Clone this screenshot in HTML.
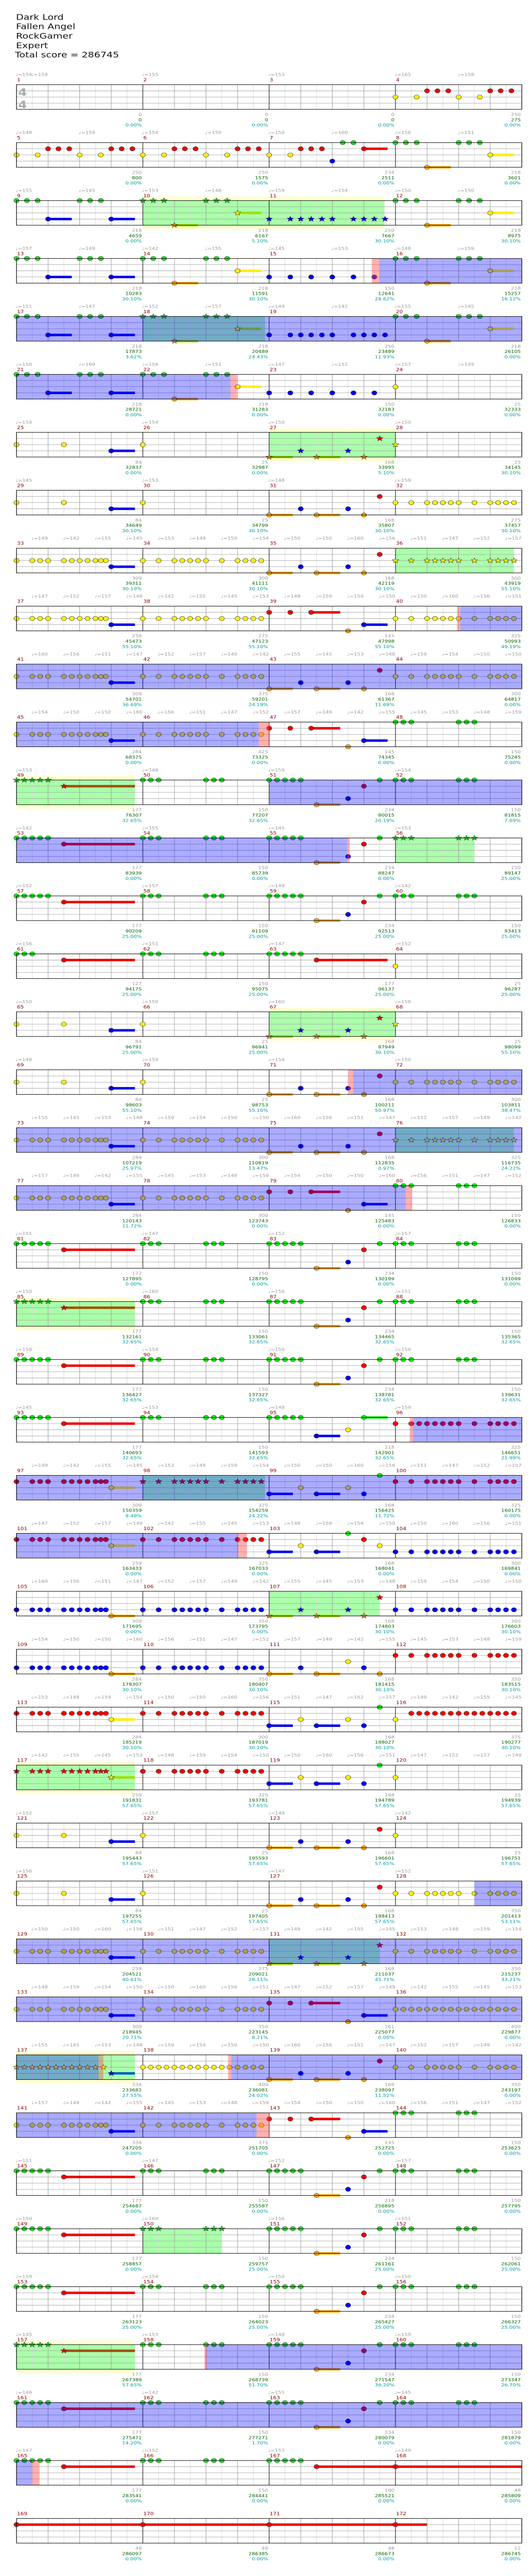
<!DOCTYPE html>
<html><head><meta charset="utf-8"><style>
html,body{margin:0;padding:0;background:#fff;overflow:hidden}
#wrap{position:absolute;left:0;top:0;overflow:hidden}
#wrap svg{position:absolute;left:0;top:0;display:block}
</style></head><body>
<div id="wrap"></div>
<script>
(function(){
const L=32,W=245,T0=206,P=141,BW=W/4;
const X6=c=>`${c}0 ${c}.5 ${c}.75 ${c}1 ${c}1.5 ${c}1.75 ${c}2 ${c}2.25 ${c}2.5 ${c}2.67 ${c}2.83`;
const XT=c=>`${c}0 ${c}.5 ${c}1 ${c}1.25 ${c}1.5 ${c}1.75 ${c}2 ${c}2.5 ${c}3 ${c}3.25 ${c}3.5 ${c}3.75`;
const XD=c=>{let a=[];for(let i=0;i<16;i++)a.push(c+(i/4));return a.join(' ');};
const pats={
E:"",M4:"Y0 Y.67 R1 R1.33 R1.67 Y2 Y2.67 R3 R3.33 R3.67",
M5:"Y0 Y.67 R1 R1.33 R1.67 Y2 Y2.67 R3 R3.33 R3.67",
M7:"Y0 Y.67 R1 R1.33 R1.67 B2 G2.33 G2.67 R3~3.75",
M8:"G0 G.33 G.67 O1~1.75 G2 G2.33 G2.67 Y3~3.75",
T1:"G0 G.33 G.67 B1~1.75 G2 G2.33 G2.67 B3~3.75",
T3:"B0 B.67 B1 B1.33 B1.67 B2 B2.67 B3 B3.33 B3.67",
T4:"B0 B.67 B1.33 B2 B2.67 B3.33",
Y0:"Y0",YS:"Y0 Y1.5 B3~3.75",
GR:"O0~.75 B1 O1.5~2.25 B2.5 O3 R3.5",
YR:XT('Y'),YT:XT('Y'),RT:XT('R'),RR:XT('R'),BT:XT('B'),BR:XT('B'),
Y6:X6('Y')+" B3~3.75",R6:X6('R')+" Y3~3.75",B6:X6('B')+" O3~3.75",
YD:XD('Y'),
RD:"R0 R.67 R1.33~2.25 O2.5 B3~3.75",
A1:"G0 G.25 G.5 G.75 G1 R1.5~3.75",
A2:"G0 G.25 G.5 G2 G2.25 G2.5",
A3:"G0 G.25 G.5 G.75 G1 O1.5~2.25 B2.5 R3 G3.5",
G3R:"G0 G.25 G.5 R1.5~3.75",
P95:"G0 G.25 G.5 G.75 G1 B1.5~2.25 Y2.5 G3~3.75",
P96:"R0 R.5 R.75 R1 R1.25 R1.5 R1.75 R2 R2.5 R3 R3.25 R3.5 R3.75",
P99:"B0~.75 Y1 B1.5~2.25 Y2.5 B3 G3.5",
P103:"B0~.75 Y1 B1.5~2.25 G2.5 R3 Y3.5",
P111:"O0~.75 B1 O1.5~2.25 Y2.5 B3 O3.5",
P115:"B0~.75 Y1 B1.5~2.25 Y2.5 B3 G3.5",
P116:"Y0 R.5 R.75 R1 R1.25 R1.5 R1.75 R2 R2.25 R2.5 R2.75 R3 R3.25 R3.5 R3.75",
P137:"Y0 Y.25 Y.5 Y.75 Y1 Y1.25 Y1.5 Y1.75 Y2 Y2.25 Y2.5 Y2.75 B3~3.75",
P167:"G0 G.25 G.5 G.75 G1 R1.5~4",RL:"R0~4",P172:"R0~1"
};
const rows=[
"E E E M4","M5 M5 M7 M8","T1 M8 T3 M8","T1 M8 T4 M8","T1 M8 T3 M8","T1 M8 T4 Y0",
"YS Y0 GR Y0","YS Y0 GR YR","Y6 YT GR YR","Y6 YT RD YR","Y6 YT GR YR","Y6 YT RD A2",
"A1 A2 A3 A2","A1 A2 A3 A2","A1 A2 A3 A2","G3R A2 A1 Y0","YS Y0 GR Y0","YS Y0 GR YR",
"Y6 YT GR YR","Y6 YT RD A2","A1 A2 A3 A2","A1 A2 A3 A2","A1 A2 A3 A2","A1 A2 P95 P96",
"R6 RT P99 RR","R6 RT P103 BR","B6 BT GR BR","B6 BT P111 RR","R6 RT P115 P116","R6 RT P115 Y0",
"YS Y0 GR Y0","YS Y0 GR YR","Y6 YT GR YR","Y6 YT RD YD","P137 YD GR YR","Y6 YT RD A2",
"A1 A2 A3 A2","A1 A2 A3 A2","A1 A2 A3 A2","A1 A2 A3 A2","A1 A2 A3 A2","A1 A2 P167 RL","RL RL RL P172"];
const meas=rows.join(' ').split(' ');
const G=(m,b)=>(m-1)*4+b;
const green=[[10,0,11,3.65,1],[18,0,18,3.87,0],[27,0,27,4,1],[36,0,36,3.75,0],[49,0,49,3.75,1],[56,0,56,2.5,0],
[67,0,67,4,1],[76,0,76,3.75,0],[85,0,85,3.75,1],[98,0,98,3.87,0],[107,0,107,3.5,0],[117,0,117,3.75,1],
[131,0,131,3.5,0],[137,0,137,3.75,1],[150,0,150,2.5,0],[157,0,157,3.75,1]].map(a=>[G(a[0],a[1]),G(a[2],a[3]),a[4]]);
const blue=[[15,3.5,22,2.78],[40,2.05,46,3.67],[51,0,55,2.47],[71,2.66,80,.33],[96,.55,102,3.02],[128,2.5,137,2.6],[138,2.8,142,3.6],[158,2.0,165,.5]].map(a=>[G(a[0],a[1]),G(a[2],a[3])]);
const pink=[[15,3.25,15,3.5],[22,2.78,22,2.98],[40,1.95,40,2.05],[46,3.67,47,0],[55,2.47,55,2.55],[71,2.5,71,2.66],[80,.33,80,.53],[96,.45,96,.55],[102,3.02,102,3.3],[137,2.6,137,2.75],[138,2.7,138,2.8],[142,3.6,143,0],[158,1.95,158,2.03],[165,.5,165,.73]].map(a=>[G(a[0],a[1]),G(a[2],a[3])]);
const col={G:"#11ee11",R:"#ee0000",Y:"#ffee00",B:"#0000ee",O:"#ffa500"},fi={G:0,R:1,Y:2,B:3,O:4};
const notes=[];
meas.forEach((p,i)=>{const s=pats[p];if(!s)return;s.split(' ').forEach(t=>{const mm=t.match(/^([GRYBO])([\d.]+)(?:~([\d.]+))?$/);if(!mm)return;
const g=i*4+parseFloat(mm[2]);notes.push({f:mm[1],g:g,e:mm[3]!==undefined?i*4+parseFloat(mm[3]):null});});});
const inGreen=g=>green.some(a=>g>=a[0]-0.02&&g<=a[1]+0.02);
const scores="0,0,0.00|0,0,0.00|0,0,0.00|250,275,0.00|250,800,0.00|250,1575,0.00|234,2511,0.00|218,3601,0.00|218,4659,0.00|218,6167,5.10|250,7667,30.10|218,8975,30.10|218,10283,30.10|218,11591,30.10|150,12641,28.62|218,15257,16.12|218,17873,3.62|218,20489,24.43|250,23489,11.93|218,26105,0.00|218,28721,0.00|218,31283,0.00|150,32183,0.00|25,32333,0.00|84,32837,0.00|25,32987,0.00|168,33995,5.10|25,34145,30.10|84,34649,30.10|25,34799,30.10|168,35807,30.10|275,37457,30.10|309,39311,30.10|300,41111,30.10|168,42119,30.10|300,43919,55.10|259,45473,55.10|275,47123,55.10|145,47998,55.10|325,50993,49.19|309,54701,36.69|375,59201,24.19|168,61367,11.69|300,64817,0.00|284,68375,0.00|425,73325,0.00|145,74345,0.00|150,75245,0.00|177,76307,32.65|150,77207,32.65|234,80015,20.19|150,81815,7.69|177,83939,0.00|150,85739,0.00|234,88247,0.00|150,89147,25.00|177,90209,25.00|150,91109,25.00|234,92513,25.00|150,93413,25.00|127,94175,25.00|150,95075,25.00|177,96137,25.00|25,96287,25.00|84,96791,25.00|25,96941,25.00|168,97949,30.10|25,98099,55.10|84,98603,55.10|25,98753,55.10|168,100211,50.97|300,103811,38.47|284,107219,25.97|300,110819,13.47|168,112835,0.97|325,116735,24.22|284,120143,11.72|300,123743,0.00|145,125483,0.00|150,126833,0.00|177,127895,0.00|150,128795,0.00|234,130199,0.00|150,131099,0.00|177,132161,32.65|150,133061,32.65|234,134465,32.65|150,135365,32.65|177,136427,32.65|150,137327,32.65|234,138781,32.65|150,139631,32.65|177,140693,32.65|150,141593,32.65|218,142901,32.65|325,146651,21.99|309,150359,9.49|325,154259,24.22|168,156425,11.72|325,160175,0.00|259,163433,0.00|325,167033,0.00|168,168041,0.00|300,169841,0.00|309,171695,0.00|350,173795,0.00|168,174803,30.10|300,176603,30.10|284,178307,30.10|350,180407,30.10|168,181415,30.10|350,183515,30.10|284,185219,30.10|300,187019,30.10|168,188027,30.10|375,190277,30.10|259,191831,57.65|325,193781,57.65|168,194789,57.65|25,194939,57.65|84,195443,57.65|25,195593,57.65|168,196601,57.65|25,196751,57.65|84,197255,57.65|25,197405,57.65|168,198413,57.65|350,201413,53.11|259,204521,40.61|375,209021,28.11|168,211037,45.71|350,215237,33.21|309,218945,20.71|350,223145,8.21|161,225077,0.00|400,229877,0.00|334,233681,27.55|400,236081,24.02|168,238097,11.52|350,243197,0.00|334,247205,0.00|375,251705,0.00|145,252725,0.00|150,253625,0.00|177,254687,0.00|150,255587,0.00|218,256895,0.00|150,257795,0.00|177,258857,0.00|150,259757,25.00|234,261161,25.00|150,262061,25.00|177,263123,25.00|150,264023,25.00|234,265427,25.00|150,266327,25.00|177,267389,57.65|150,268739,51.70|234,271547,39.20|150,273347,26.70|177,275471,14.20|150,277271,1.70|234,280079,0.00|150,281879,0.00|177,283541,0.00|150,284441,0.00|180,285521,0.00|48,285809,0.00|48,286097,0.00|48,286385,0.00|48,286673,0.00|12,286745,0.00".split('|').map(s=>s.split(','));
const dense=new Set([8,9,10,11,18,19,24,25,26,27,28,29,32,33,34,35]);
const tv=[150,145,152,150,153,157,160,148,149,156,159,142,151,154,155,147];
let s='';
const F='font-family="DejaVu Sans, Liberation Sans, sans-serif"';
const hd=["Dark Lord","Fallen Angel","RockGamer","Expert"];
hd.forEach((t,i)=>{s+=`<text x="31" y="${48+i*23}" font-size="19" ${F} fill="#111">${t}</text>`;});
s+=`<text x="29" y="140" font-size="19" ${F} fill="#111">Total score = 286745</text>`;
function star(cx,cy,r,c){let p=[];for(let k=0;k<10;k++){const a=-Math.PI/2+k*Math.PI/5,rr=k%2?r*0.45:r;p.push((cx+rr*Math.cos(a)).toFixed(1)+','+(cy+rr*Math.sin(a)).toFixed(1));}
return `<polygon points="${p.join(' ')}" fill="${c}" stroke="#222" stroke-width="0.7"/>`;}
for(let r=0;r<43;r++){
 const top=T0+r*P,g0=r*16,g1=g0+16;
 const xg=g=>L+(g-g0)*BW;
 const clip=(a,b)=>[Math.max(a,g0),Math.min(b,g1)];
 green.forEach(a=>{if(!a[2])return;const[c0,c1]=clip(a[0],a[1]);if(c1>c0)s+=`<rect x="${xg(c0)}" y="${top-10}" width="${(c1-c0)*BW}" height="80" fill="#ffffd0"/>`;});
 s+=`<rect x="${L}" y="${top}" width="${4*W}" height="60" fill="#fff"/>`;
 green.forEach(a=>{const[c0,c1]=clip(a[0],a[1]);if(c1>c0)s+=`<rect x="${xg(c0)}" y="${top}" width="${(c1-c0)*BW}" height="60" fill="#aaffaa"/>`;});
 for(let k=1;k<32;k++){if(k%8==0)continue;const x=L+k*W/8;s+=`<line x1="${x}" y1="${top}" x2="${x}" y2="${top+60}" stroke="${k%2?'#dcdcdc':'#a0a0a0'}" stroke-width="1"/>`;}
 for(let j=1;j<4;j++)s+=`<line x1="${L}" y1="${top+j*15}" x2="${L+4*W}" y2="${top+j*15}" stroke="#a0a0a0" stroke-width="1"/>`;
 for(let k=1;k<4;k++){const x=L+k*W;s+=`<line x1="${x}" y1="${top}" x2="${x}" y2="${top+60}" stroke="#000" stroke-width="1"/>`;}
 if(r==0){s+=`<text x="35" y="${top+27}" font-size="25" font-weight="bold" ${F} fill="#aaa">4</text><text x="35" y="${top+57}" font-size="25" font-weight="bold" ${F} fill="#aaa">4</text>`;}
 notes.forEach(n=>{if(n.e===null)return;const[c0,c1]=clip(n.g,n.e);if(c1<=c0)return;const y=top+fi[n.f]*15;
  let c=col[n.f];if(inGreen(n.g))c=n.f=='R'?'#a05000':(n.f=='B'?'#0060c0':'#a0e000');
  s+=`<rect x="${xg(c0)}" y="${y-3}" width="${(c1-c0)*BW}" height="6" fill="${c}"/>`;});
 notes.forEach(n=>{if(n.g<g0||n.g>=g1)return;const x=xg(n.g),y=top+fi[n.f]*15;
  if(inGreen(n.g))s+=star(x,y,6.5,col[n.f]);else s+=`<ellipse cx="${x}" cy="${y}" rx="5" ry="5.3" fill="${col[n.f]}" stroke="#222" stroke-width="0.7"/>`;});
 blue.forEach(a=>{const[c0,c1]=clip(a[0],a[1]);if(c1>c0)s+=`<rect x="${xg(c0)}" y="${top}" width="${(c1-c0)*BW}" height="60" fill="rgba(0,0,255,0.33)"/>`;});
 pink.forEach(a=>{const[c0,c1]=clip(a[0],a[1]);if(c1>c0)s+=`<rect x="${xg(c0)}" y="${top}" width="${(c1-c0)*BW}" height="60" fill="rgba(255,80,80,0.45)"/>`;});
 s+=`<rect x="${L}" y="${top}" width="${4*W}" height="60" fill="none" stroke="#000" stroke-width="1.2"/>`;
 for(let m=0;m<4;m++){
  const mn=r*4+m+1,mx=L+m*W;
  if(mn<=172)s+=`<text x="${mx+1}" y="${top-8}" font-size="10.5" ${F} fill="#8b0000">${mn}</text>`;
  const sc=scores[mn-1];
  if(sc){const ex=mx+W-2;
   s+=`<text x="${ex}" y="${top+76}" font-size="10" text-anchor="end" ${F} fill="#999">${sc[0]}</text>`;
   s+=`<text x="${ex}" y="${top+89}" font-size="10" text-anchor="end" ${F} fill="#006400">${sc[1]}</text>`;
   s+=`<text x="${ex}" y="${top+102}" font-size="10" text-anchor="end" ${F} fill="#009999">${sc[2]}%</text>`;}
 }
 if(r<42){
  const pos=[];
  if(dense.has(r)){for(let k=0;k<16;k++)pos.push(k+0.5);}
  else if(r==0){pos.push(0,0.5,4,8,12,14);}
  else if(r>=1&&r<=5){pos.push(0,2,4,6,8,10,12,14);}
  else pos.push(0,4,8,12);
  pos.forEach((b,k)=>{const x=L+b*BW;const v=r==0?[154,154,155,153,165,158][k]:tv[(r*7+k*3)%tv.length];
   s+=`<text x="${x-2}" y="${top-21}" font-size="10" ${F} fill="#999">♩=${v}</text>`;});
 }
}
let vw=window.innerWidth||1024,vh=window.innerHeight||6268;
if(!vw||vw<100)vw=1024;
if(!vh||vh<3000)vh=Math.round(vw*6268/1024);
const wrap=document.getElementById('wrap');
wrap.style.width=vw+'px';wrap.style.height=vh+'px';
document.documentElement.style.width=vw+'px';document.documentElement.style.height=vh+'px';
document.body.style.width=vw+'px';document.body.style.height=vh+'px';
wrap.innerHTML=`<svg xmlns="http://www.w3.org/2000/svg" width="${vw}" height="${vh}" viewBox="0 0 1024 6268" preserveAspectRatio="none">${s}</svg>`;
})();
</script>
</body></html>
